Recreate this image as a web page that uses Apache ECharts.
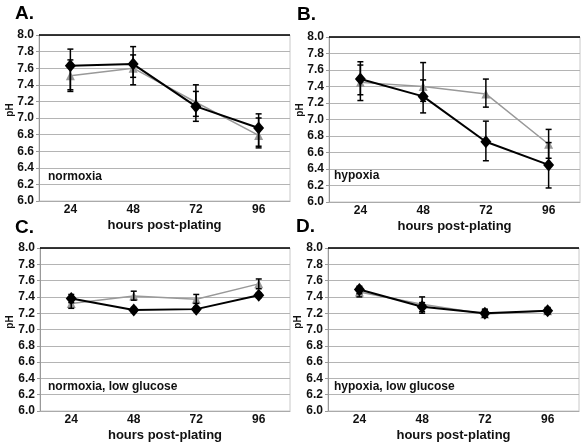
<!DOCTYPE html>
<html><head><meta charset="utf-8">
<script src="https://cdn.jsdelivr.net/npm/echarts@6/dist/echarts.min.js"></script>
<style>html,body{margin:0;padding:0;background:#fff}#c{width:584px;height:444px}</style>
</head><body><div id="c"></div>
<script>
const categories = ['24', '48', '72', '96'];
const yTicks = [6.0, 8.0, 0.2];

const A_black = [7.63, 7.65, 7.14, 6.88];
const A_black_low = [7.34, 7.40, 6.96, 6.66];
const A_black_high = [7.83, 7.86, 7.40, 7.05];
const A_grey = [7.51, 7.60, 7.19, 6.79];
const A_grey_low = [7.32, 7.49, 7.02, 6.64];
const A_grey_high = [7.70, 7.76, 7.32, 7.00];

const B_black = [7.49, 7.28, 6.73, 6.45];
const B_black_low = [7.23, 7.08, 6.50, 6.17];
const B_black_high = [7.70, 7.48, 6.98, 6.72];
const B_grey = [7.45, 7.40, 7.31, 6.70];
const B_grey_low = [7.30, 7.22, 7.15, 6.53];
const B_grey_high = [7.66, 7.69, 7.49, 6.88];

const C_black = [7.38, 7.24, 7.25, 7.42];
const C_black_low = [7.33, 7.21, 7.22, 7.39];
const C_black_high = [7.43, 7.27, 7.28, 7.45];
const C_grey = [7.32, 7.41, 7.37, 7.56];
const C_grey_low = [7.26, 7.36, 7.32, 7.50];
const C_grey_high = [7.38, 7.47, 7.43, 7.62];

const D_black = [7.49, 7.28, 7.20, 7.23];
const D_black_low = [7.44, 7.22, 7.15, 7.19];
const D_black_high = [7.53, 7.33, 7.25, 7.27];
const D_grey = [7.46, 7.31, 7.19, 7.23];
const D_grey_low = [7.40, 7.20, 7.15, 7.20];
const D_grey_high = [7.50, 7.40, 7.24, 7.26];

const panelLetters = ['A.', 'B.', 'C.', 'D.'];
const panelNotes = ['normoxia', 'hypoxia', 'normoxia, low glucose', 'hypoxia, low glucose'];
const xName = 'hours post-plating';
const yName = 'pH';

const FONT = 'Liberation Sans, Arial, sans-serif';
const panels = [
  {black: A_black, bl: A_black_low, bh: A_black_high, grey: A_grey, gl: A_grey_low, gh: A_grey_high,
   grid: {left: 39, top: 35, width: 251, height: 166}, letter: [15, 4], note: [48, 171], ph: [10, 110]},
  {black: B_black, bl: B_black_low, bh: B_black_high, grey: B_grey, gl: B_grey_low, gh: B_grey_high,
   grid: {left: 329, top: 37, width: 251, height: 165}, letter: [297, 5], note: [334, 170], ph: [300, 110]},
  {black: C_black, bl: C_black_low, bh: C_black_high, grey: C_grey, gl: C_grey_low, gh: C_grey_high,
   grid: {left: 40, top: 248, width: 250, height: 163}, letter: [15, 218], note: [48, 381], ph: [10, 322]},
  {black: D_black, bl: D_black_low, bh: D_black_high, grey: D_grey, gl: D_grey_low, gh: D_grey_high,
   grid: {left: 328, top: 248, width: 251, height: 163}, letter: [296, 217], note: [334, 381], ph: [298, 322]}
];

function renderErr(params, api) {
  const i = api.value(0);
  const lo = api.coord([i, api.value(1)]);
  const hi = api.coord([i, api.value(2)]);
  const w = 3;
  const st = {stroke: '#000', lineWidth: 1.5};
  return {type: 'group', children: [
    {type: 'line', shape: {x1: hi[0], y1: hi[1], x2: lo[0], y2: lo[1]}, style: st},
    {type: 'line', shape: {x1: hi[0] - w, y1: hi[1], x2: hi[0] + w, y2: hi[1]}, style: st},
    {type: 'line', shape: {x1: lo[0] - w, y1: lo[1], x2: lo[0] + w, y2: lo[1]}, style: st}
  ]};
}

const grids = [], xAxes = [], yAxes = [], series = [], graphics = [];
panels.forEach((p, k) => {
  grids.push(Object.assign({show: true, borderColor: '#c8c8c8', borderWidth: 1, backgroundColor: 'transparent'}, p.grid));
  xAxes.push({type: 'category', gridIndex: k, data: categories, boundaryGap: true,
    axisLine: {show: true, lineStyle: {color: '#aaa', width: 1}}, axisTick: {show: false},
    axisLabel: {color: '#111', fontFamily: FONT, fontWeight: 'bold', fontSize: 12, margin: 3},
    name: xName, nameLocation: 'middle', nameGap: 18,
    nameTextStyle: {color: '#111', fontFamily: FONT, fontWeight: 'bold', fontSize: 13},
    splitLine: {show: false}});
  yAxes.push({type: 'value', gridIndex: k, min: yTicks[0], max: yTicks[1], interval: yTicks[2],
    axisLine: {show: true, lineStyle: {color: '#999', width: 1}},
    axisTick: {show: true, length: 3, lineStyle: {color: '#999'}},
    axisLabel: {color: '#111', fontFamily: FONT, fontWeight: 'bold', fontSize: 12, margin: 5,
      formatter: v => v.toFixed(1)},
    splitLine: {show: true, lineStyle: {color: '#b4b4b4', width: 1}}});
  series.push({type: 'line', xAxisIndex: k, yAxisIndex: k, data: p.grey, z: 2,
    symbol: 'triangle', symbolSize: 9, itemStyle: {color: '#999'},
    lineStyle: {color: '#999', width: 1.5}, animation: false});
  series.push({type: 'custom', xAxisIndex: k, yAxisIndex: k, z: 3, renderItem: renderErr, animation: false,
    data: categories.map((c, i) => [i, p.gl[i], p.gh[i]])});
  series.push({type: 'custom', xAxisIndex: k, yAxisIndex: k, z: 3, renderItem: renderErr, animation: false,
    data: categories.map((c, i) => [i, p.bl[i], p.bh[i]])});
  series.push({type: 'line', xAxisIndex: k, yAxisIndex: k, data: p.black, z: 4,
    symbol: 'diamond', symbolSize: [11, 13], itemStyle: {color: '#000'},
    lineStyle: {color: '#000', width: 2}, animation: false,
    markLine: {silent: true, symbol: 'none', label: {show: false}, animation: false,
      lineStyle: {color: '#000', type: 'solid', width: 1.5}, data: [{yAxis: yTicks[1]}]}});
  graphics.push({type: 'text', left: p.letter[0], top: p.letter[1],
    style: {text: panelLetters[k], font: 'bold 19px ' + FONT, fill: '#000'}});
  graphics.push({type: 'text', left: p.note[0], top: p.note[1],
    style: {text: panelNotes[k], font: 'bold 12px ' + FONT, fill: '#111'}});
  graphics.push({type: 'text', x: p.ph[0], y: p.ph[1], rotation: Math.PI / 2,
    style: {text: yName, font: 'bold 10px ' + FONT, fill: '#111', align: 'center', verticalAlign: 'middle'}});
});

const chart = echarts.init(document.getElementById('c'), null, {renderer: 'canvas'});
chart.setOption({animation: false, backgroundColor: '#fff', grid: grids, xAxis: xAxes, yAxis: yAxes,
  series: series, graphic: graphics});
</script></body></html>
